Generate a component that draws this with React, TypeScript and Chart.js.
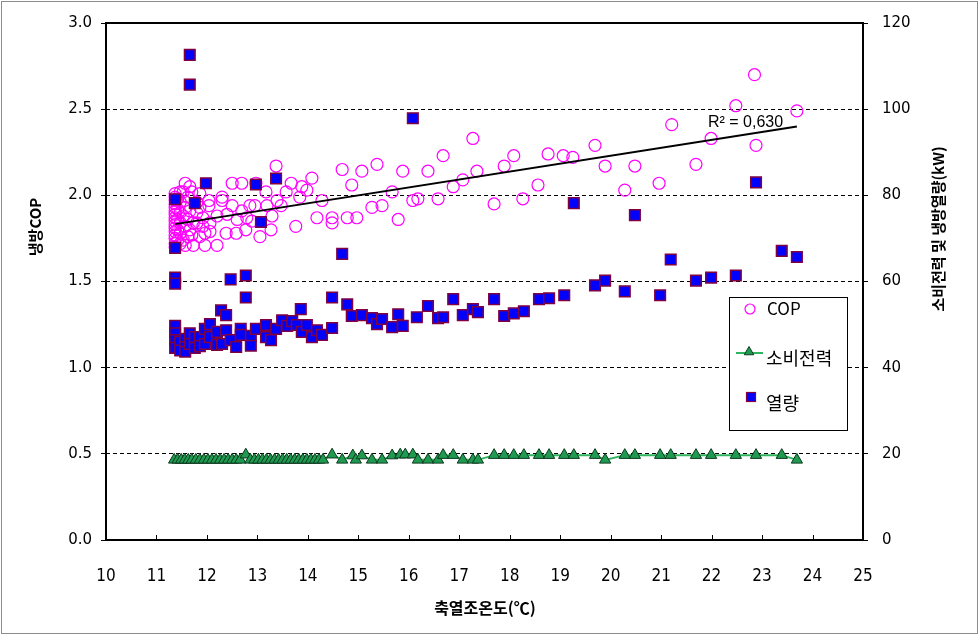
import React, { useEffect, useRef } from "react";
import { Chart, registerables } from "chart.js";

Chart.register(...registerables);

// ---- data ----
const xTicks = [10, 11, 12, 13, 14, 15, 16, 17, 18, 19, 20, 21, 22, 23, 24, 25];
const copTicks = [0, 0.5, 1.0, 1.5, 2.0, 2.5, 3.0];
const kwTicks = [0, 20, 40, 60, 80, 100, 120];

const legendLabels = ["COP", "소비전력", "열량"];
const xTitle = "축열조온도(℃)";
const leftTitle = "냉방COP";
const rightTitle = "소비전력 및 냉방열량(kW)";
const r2Label = "R² = 0,630";

// COP points [temperature, COP]
const copData: [number, number][] = [
  [11.37, 1.70], [11.37, 1.72], [11.37, 1.75], [11.37, 1.77], [11.37, 1.79], [11.37, 1.81],
  [11.37, 1.83], [11.37, 1.85], [11.37, 1.87], [11.37, 1.89], [11.37, 1.91], [11.37, 1.93],
  [11.37, 1.95], [11.37, 1.97], [11.37, 1.99], [11.37, 2.01],
  [11.42, 1.74], [11.42, 1.80], [11.42, 1.86], [11.42, 1.92], [11.42, 1.98],
  [11.47, 1.72], [11.47, 1.78], [11.47, 1.84], [11.47, 1.90], [11.47, 1.96], [11.47, 2.02],
  [11.53, 1.74], [11.53, 1.88], [11.53, 2.02],
  [11.57, 1.71], [11.57, 1.82], [11.57, 1.93], [11.57, 2.07],
  [11.62, 1.76], [11.62, 1.86], [11.62, 1.99],
  [11.66, 1.80], [11.66, 1.91], [11.66, 2.05],
  [11.70, 1.77], [11.70, 2.02], [11.73, 1.71], [11.73, 1.84],
  [11.80, 1.84], [11.80, 1.90], [11.80, 1.96],
  [11.86, 1.76], [11.86, 1.93], [11.86, 2.01],
  [11.92, 1.82], [11.92, 1.87], [11.96, 1.71], [11.96, 1.78],
  [12.04, 1.94], [12.04, 1.97], [12.06, 1.79], [12.06, 1.84],
  [12.20, 1.71], [12.20, 1.88], [12.30, 1.97], [12.30, 1.99],
  [12.38, 1.78], [12.40, 1.89], [12.50, 1.94], [12.50, 2.07],
  [12.58, 1.78], [12.60, 1.86], [12.69, 1.91], [12.69, 2.07],
  [12.77, 1.80], [12.79, 1.87], [12.85, 1.94], [12.89, 1.85],
  [12.95, 1.94], [12.97, 2.07], [13.05, 1.76], [13.17, 2.02],
  [13.19, 1.94], [13.27, 1.80], [13.29, 1.88], [13.37, 2.17],
  [13.39, 1.97], [13.47, 1.94], [13.57, 2.02], [13.67, 2.07],
  [13.76, 1.82], [13.84, 1.99], [13.88, 2.05], [13.98, 2.03],
  [14.08, 2.10], [14.18, 1.87], [14.28, 1.97], [14.48, 1.87],
  [14.48, 1.84], [14.68, 2.15], [14.78, 1.87], [14.87, 2.06],
  [14.97, 1.87], [15.07, 2.14], [15.27, 1.93], [15.37, 2.18],
  [15.47, 1.94], [15.67, 2.02], [15.79, 1.86], [15.88, 2.14],
  [16.08, 1.97], [16.18, 1.98], [16.38, 2.14], [16.58, 1.98],
  [16.68, 2.23], [16.88, 2.05], [17.07, 2.09], [17.27, 2.33],
  [17.35, 2.14], [17.69, 1.95], [17.89, 2.17], [18.08, 2.23],
  [18.26, 1.98], [18.56, 2.06], [18.76, 2.24], [19.06, 2.23],
  [19.25, 2.22], [19.69, 2.29], [19.89, 2.17], [20.28, 2.03],
  [20.48, 2.17], [20.96, 2.07], [21.21, 2.41], [21.69, 2.18],
  [21.99, 2.33], [22.48, 2.52], [22.85, 2.70], [22.88, 2.29],
  [23.69, 2.49],
];

// Heat (열량) points [temperature, kW]
const heatData: [number, number][] = [
  [11.37, 79.1], [11.37, 67.8], [11.37, 60.9], [11.37, 59.5], [11.37, 49.7], [11.37, 48.0],
  [11.37, 46.4], [11.37, 44.6], [11.47, 46.0], [11.47, 44.0],
  [11.57, 46.7], [11.57, 44.8], [11.57, 43.7],
  [11.66, 112.6], [11.66, 105.7], [11.66, 48.0], [11.66, 45.5],
  [11.76, 78.2], [11.76, 47.1], [11.76, 44.6], [11.86, 47.1], [11.86, 45.0],
  [11.96, 49.0], [11.96, 45.5], [11.98, 82.8], [12.06, 50.1], [12.06, 47.1],
  [12.20, 48.3], [12.20, 45.3], [12.28, 53.3], [12.30, 45.5],
  [12.38, 52.2], [12.38, 48.7], [12.47, 60.5], [12.47, 46.4], [12.58, 44.8],
  [12.67, 49.0], [12.67, 47.6], [12.77, 61.4], [12.77, 56.3],
  [12.87, 47.4], [12.87, 45.1], [12.97, 82.5], [12.97, 49.0], [13.07, 73.8],
  [13.17, 49.9], [13.17, 47.1], [13.27, 46.4], [13.37, 83.9], [13.37, 49.0],
  [13.49, 51.0], [13.59, 49.7], [13.69, 50.8], [13.78, 49.9], [13.86, 53.6],
  [13.88, 48.3], [13.98, 49.9], [14.08, 47.1], [14.18, 48.7], [14.28, 47.6],
  [14.48, 56.3], [14.48, 49.2], [14.68, 66.4], [14.78, 54.7], [14.87, 52.0],
  [15.07, 52.2], [15.27, 51.5], [15.37, 50.1], [15.47, 51.3], [15.67, 49.4],
  [15.79, 52.4], [15.88, 49.7], [16.08, 97.9], [16.16, 51.7], [16.38, 54.3],
  [16.58, 51.5], [16.68, 51.7], [16.88, 55.9], [17.07, 52.2], [17.27, 53.6],
  [17.37, 52.9], [17.69, 55.9], [17.89, 52.0], [18.08, 52.6], [18.28, 53.1],
  [18.58, 55.9], [18.78, 56.1], [19.08, 56.8], [19.27, 78.2], [19.69, 59.1],
  [19.89, 60.2], [20.28, 57.7], [20.48, 75.4], [20.98, 56.8], [21.19, 65.1],
  [21.69, 60.2], [21.99, 60.9], [22.48, 61.4], [22.88, 83.0], [23.39, 67.1],
  [23.69, 65.7],
];

// Power (소비전력) points [temperature, kW]
const powerData: [number, number][] = [
  [11.35, 18.6], [11.42, 18.6], [11.49, 18.6], [11.56, 18.6], [11.63, 18.6], [11.70, 18.6],
  [11.78, 18.6], [11.86, 18.6], [11.94, 18.6], [12.02, 18.6], [12.10, 18.6], [12.18, 18.6],
  [12.26, 18.6], [12.34, 18.6], [12.42, 18.6], [12.50, 18.6], [12.58, 18.6], [12.66, 18.6],
  [12.77, 19.8], [12.86, 18.6], [12.94, 18.6], [13.02, 18.6], [13.10, 18.6], [13.18, 18.6],
  [13.26, 18.6], [13.34, 18.6], [13.42, 18.6], [13.50, 18.6], [13.58, 18.6], [13.66, 18.6],
  [13.74, 18.6], [13.82, 18.6], [13.90, 18.6], [13.98, 18.6], [14.06, 18.6], [14.14, 18.6],
  [14.22, 18.6], [14.30, 18.6],
  [14.48, 19.8], [14.68, 18.6], [14.89, 19.6], [14.95, 18.6], [15.07, 19.6], [15.27, 18.6],
  [15.47, 18.6], [15.67, 19.6], [15.83, 19.8], [15.93, 19.8], [16.08, 19.8], [16.18, 18.6],
  [16.38, 18.6], [16.58, 18.6], [16.68, 19.7], [16.88, 19.7], [17.07, 18.6], [17.27, 18.6],
  [17.37, 18.6], [17.69, 19.7], [17.89, 19.7], [18.08, 19.7], [18.28, 19.7], [18.58, 19.7],
  [18.78, 19.7], [19.08, 19.7], [19.27, 19.7], [19.69, 19.7], [19.89, 18.6], [20.28, 19.7],
  [20.48, 19.7], [20.98, 19.7], [21.19, 19.7], [21.69, 19.7], [21.99, 19.7], [22.48, 19.7],
  [22.88, 19.7], [23.39, 19.7], [23.69, 18.6],
];

// Linear trend line of COP (end points)
const trendData: [number, number][] = [
  [11.37, 1.833],
  [23.69, 2.40],
];

const toXY = (arr: [number, number][]) => arr.map(([x, y]) => ({ x, y }));

const COP_COLOR = "#ff00ff";
const HEAT_FILL = "#0000ff";
const HEAT_BORDER = "#800040";
const POWER_LINE = "#2fb45e";
const POWER_FILL = "#1f9a50";
const POWER_BORDER = "#0c3a1e";

const KR = "'Noto Sans CJK KR', 'Noto Sans', sans-serif";

const decorPlugin = {
  id: "decor",
  beforeDraw(chart: any) {
    const { ctx, width, height } = chart;
    ctx.save();
    ctx.fillStyle = "#ffffff";
    ctx.fillRect(0, 0, width, height);
    ctx.restore();
  },
  afterDraw(chart: any) {
    const { ctx, chartArea } = chart;
    const { left, right, top, bottom } = chartArea;
    const xs = chart.scales.x;
    ctx.save();
    // plot frame
    ctx.strokeStyle = "#000";
    ctx.lineWidth = 2;
    ctx.setLineDash([]);
    ctx.strokeRect(left, top, right - left, bottom - top);
    // inner x tick marks
    ctx.lineWidth = 1;
    xTicks.forEach((v) => {
      const px = Math.round(xs.getPixelForValue(v)) + 0.5;
      ctx.beginPath();
      ctx.moveTo(px, bottom);
      ctx.lineTo(px, bottom - 5);
      ctx.stroke();
    });
    // outer gray border
    ctx.strokeStyle = "#8c8c8c";
    ctx.lineWidth = 1;
    ctx.strokeRect(1.5, 1.5, 976, 632);

    // axis titles
    ctx.fillStyle = "#000";
    ctx.font = `bold 16px ${KR}`;
    ctx.textAlign = "center";
    ctx.textBaseline = "middle";
    ctx.fillText(xTitle, 485, 608);
    ctx.font = `bold 15px ${KR}`;
    ctx.save();
    ctx.translate(35, 227);
    ctx.rotate(-Math.PI / 2);
    ctx.fillText(leftTitle, 0, 0);
    ctx.restore();
    ctx.save();
    ctx.translate(938, 229);
    ctx.rotate(-Math.PI / 2);
    ctx.fillText(rightTitle, 0, 0);
    ctx.restore();

    // R² label
    ctx.font = "16px 'Liberation Sans', sans-serif";
    ctx.textAlign = "left";
    ctx.fillText(r2Label, 708, 123);

    // legend box
    const lx = 729.5, ly = 297.5, lw = 118, lh = 133;
    ctx.fillStyle = "#fff";
    ctx.fillRect(lx, ly, lw, lh);
    ctx.strokeStyle = "#000";
    ctx.lineWidth = 1;
    ctx.strokeRect(lx, ly, lw, lh);

    // COP symbol
    ctx.strokeStyle = COP_COLOR;
    ctx.lineWidth = 1.2;
    ctx.beginPath();
    ctx.arc(750, 309, 5, 0, Math.PI * 2);
    ctx.stroke();
    // power symbol
    ctx.strokeStyle = POWER_LINE;
    ctx.lineWidth = 2;
    ctx.beginPath();
    ctx.moveTo(736, 353);
    ctx.lineTo(763, 353);
    ctx.stroke();
    ctx.beginPath();
    const tr = 5.5, tcx = 749, tcy = 352;
    ctx.moveTo(tcx, tcy - tr);
    ctx.lineTo(tcx + tr * 0.866, tcy + tr / 2);
    ctx.lineTo(tcx - tr * 0.866, tcy + tr / 2);
    ctx.closePath();
    ctx.fillStyle = POWER_FILL;
    ctx.fill();
    ctx.strokeStyle = POWER_BORDER;
    ctx.lineWidth = 1;
    ctx.stroke();
    // heat symbol
    ctx.fillStyle = HEAT_FILL;
    ctx.fillRect(746.5, 392.5, 9, 9);
    ctx.strokeStyle = HEAT_BORDER;
    ctx.lineWidth = 1.2;
    ctx.strokeRect(746.5, 392.5, 9, 9);

    ctx.fillStyle = "#000";
    ctx.textAlign = "left";
    ctx.textBaseline = "middle";
    ctx.font = `17px ${KR}`;
    ctx.fillText(legendLabels[0], 767, 309);
    ctx.font = `18px ${KR}`;
    ctx.fillText(legendLabels[1], 766, 358);
    ctx.fillText(legendLabels[2], 766, 403);
    ctx.restore();
  },
};

export default function App() {
  const ref = useRef<HTMLCanvasElement | null>(null);

  useEffect(() => {
    document.body.style.margin = "0";
    if (!ref.current) return;
    const chart = new Chart(ref.current, {
      type: "scatter",
      data: {
        datasets: [
          {
            type: "line",
            label: "trend",
            data: toXY(trendData),
            yAxisID: "y",
            borderColor: "#000",
            borderWidth: 2,
            pointRadius: 0,
            showLine: true,
            order: 0,
          } as any,
          {
            label: legendLabels[2],
            data: toXY(heatData),
            yAxisID: "y1",
            pointStyle: "rect",
            pointRadius: 7.5,
            backgroundColor: HEAT_FILL,
            borderColor: HEAT_BORDER,
            borderWidth: 1.5,
            order: 1,
          },
          {
            label: legendLabels[0],
            data: toXY(copData),
            yAxisID: "y",
            pointStyle: "circle",
            pointRadius: 6,
            backgroundColor: "rgba(0,0,0,0)",
            borderColor: COP_COLOR,
            borderWidth: 1.2,
            order: 2,
          },
          {
            type: "line",
            label: legendLabels[1],
            data: toXY(powerData),
            yAxisID: "y1",
            showLine: true,
            borderColor: POWER_LINE,
            borderWidth: 2,
            pointStyle: "triangle",
            pointRadius: 6.5,
            pointBackgroundColor: POWER_FILL,
            pointBorderColor: POWER_BORDER,
            pointBorderWidth: 1,
            order: 3,
          } as any,
        ],
      },
      options: {
        responsive: false,
        animation: false,
        devicePixelRatio: 1,
        layout: { padding: { top: 18, left: 0, right: 0, bottom: 0 } },
        plugins: {
          legend: { display: false },
          tooltip: { enabled: false },
        },
        scales: {
          x: {
            type: "linear",
            position: "bottom",
            min: 10,
            max: 25,
            afterBuildTicks: (s: any) => {
              s.ticks = xTicks.map((v) => ({ value: v }));
            },
            afterFit: (s: any) => {
              s.height = 102;
            },
            grid: { display: false },
            border: { display: false },
            ticks: {
              padding: 18,
              color: "#000",
              font: { family: "'Liberation Sans Narrow', 'DejaVu Sans Condensed', 'Liberation Sans'", size: 17 },
              callback: (v: any) => String(v),
            },
          },
          y: {
            type: "linear",
            position: "left",
            min: 0,
            max: 3,
            afterBuildTicks: (s: any) => {
              s.ticks = copTicks.map((v) => ({ value: v }));
            },
            afterFit: (s: any) => {
              s.width = 106;
            },
            grid: {
              color: "#000",
              lineWidth: 1,
              drawTicks: true,
              tickLength: 5,
              tickColor: "#000",
            },
            border: { display: false, dash: [4, 3] },
            ticks: {
              padding: 9,
              color: "#000",
              font: { family: "'DejaVu Sans'", size: 15 },
              callback: (v: any) => Number(v).toFixed(1),
            },
          },
          y1: {
            type: "linear",
            position: "right",
            min: 0,
            max: 120,
            afterBuildTicks: (s: any) => {
              s.ticks = kwTicks.map((v) => ({ value: v }));
            },
            afterFit: (s: any) => {
              s.width = 117;
            },
            grid: {
              drawOnChartArea: false,
              drawTicks: true,
              tickLength: 5,
              color: "#000",
            },
            border: { display: false },
            ticks: {
              padding: 14,
              color: "#000",
              font: { family: "'DejaVu Sans'", size: 15 },
              callback: (v: any) => String(v),
            },
          },
        },
      },
      plugins: [decorPlugin],
    });
    return () => chart.destroy();
  }, []);

  return <canvas ref={ref} width={980} height={642} style={{ display: "block" }} />;
}
